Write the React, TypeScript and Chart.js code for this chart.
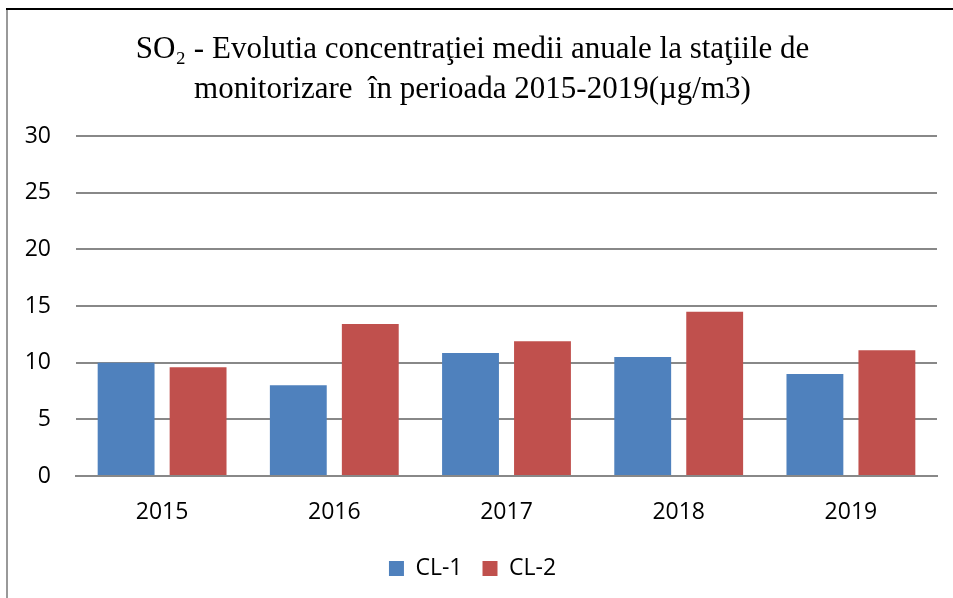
import React, { useEffect, useRef } from "react";
import { Chart, registerables } from "chart.js";

Chart.register(...registerables);

const categories = ["2015", "2016", "2017", "2018", "2019"];
const seriesNames = ["CL-1", "CL-2"];
const cl1Values = [10.0, 8.0, 10.85, 10.5, 9.0];
const cl2Values = [9.6, 13.4, 11.9, 14.5, 11.1];
const titleLines = [
  "SO₂ - Evolutia concentraţiei medii anuale la staţiile de",
  "monitorizare  în perioada 2015-2019(µg/m3)",
];
const yMin = 0;
const yMax = 30;
const yStep = 5;

const TICK_FONT = "'Open Sans', 'Noto Sans', sans-serif";

export default function App() {
  const canvasRef = useRef<HTMLCanvasElement | null>(null);

  useEffect(() => {
    const canvas = canvasRef.current;
    if (!canvas) return;
    const chart = new Chart(canvas, {
      type: "bar",
      data: {
        labels: categories,
        datasets: [
          {
            label: seriesNames[0],
            data: cl1Values,
            backgroundColor: "#4F81BD",
            categoryPercentage: 0.836,
            barPercentage: 0.79,
          },
          {
            label: seriesNames[1],
            data: cl2Values,
            backgroundColor: "#C0504D",
            categoryPercentage: 0.836,
            barPercentage: 0.79,
          },
        ],
      },
      options: {
        responsive: false,
        animation: false,
        layout: { padding: { left: 8, right: 16, top: 10, bottom: 8 } },
        plugins: {
          title: {
            display: true,
            text: titleLines,
            color: "#000",
            font: { family: "'Liberation Serif', 'Times New Roman', serif", size: 31, weight: "normal", lineHeight: 1.29 },
            padding: { top: 20, bottom: 26 },
          },
          legend: {
            display: true,
            position: "bottom",
            labels: {
              color: "#000",
              font: { family: TICK_FONT, size: 23 },
              boxWidth: 15,
              boxHeight: 15,
              padding: 20,
            },
          },
          tooltip: { enabled: false },
        },
        scales: {
          x: {
            afterFit: (axis: any) => {
              axis.height = 61;
            },
            grid: { display: false, drawTicks: false },
            border: { display: true, color: "#888888", width: 2 },
            ticks: { color: "#000", font: { family: TICK_FONT, size: 23 }, padding: 23 },
          },
          y: {
            min: yMin,
            max: yMax,
            afterFit: (axis: any) => {
              axis.width = 68;
            },
            grid: { color: "#888888", lineWidth: 2, drawTicks: false },
            border: { display: false },
            ticks: { stepSize: yStep, color: "#000", font: { family: TICK_FONT, size: 23 }, padding: 25 },
          },
        },
      },
    });
    return () => chart.destroy();
  }, []);

  return (
    <div style={{ position: "absolute", left: 0, top: 0, width: 953, height: 598, background: "#fff", overflow: "hidden" }}>
      <canvas ref={canvasRef} width={953} height={598} style={{ position: "absolute", left: 0, top: 0 }} />
      <div style={{ position: "absolute", left: 6, top: 8, width: 947, height: 2, background: "#000" }} />
      <div style={{ position: "absolute", left: 6, top: 10, width: 2, height: 588, background: "#999" }} />
    </div>
  );
}
